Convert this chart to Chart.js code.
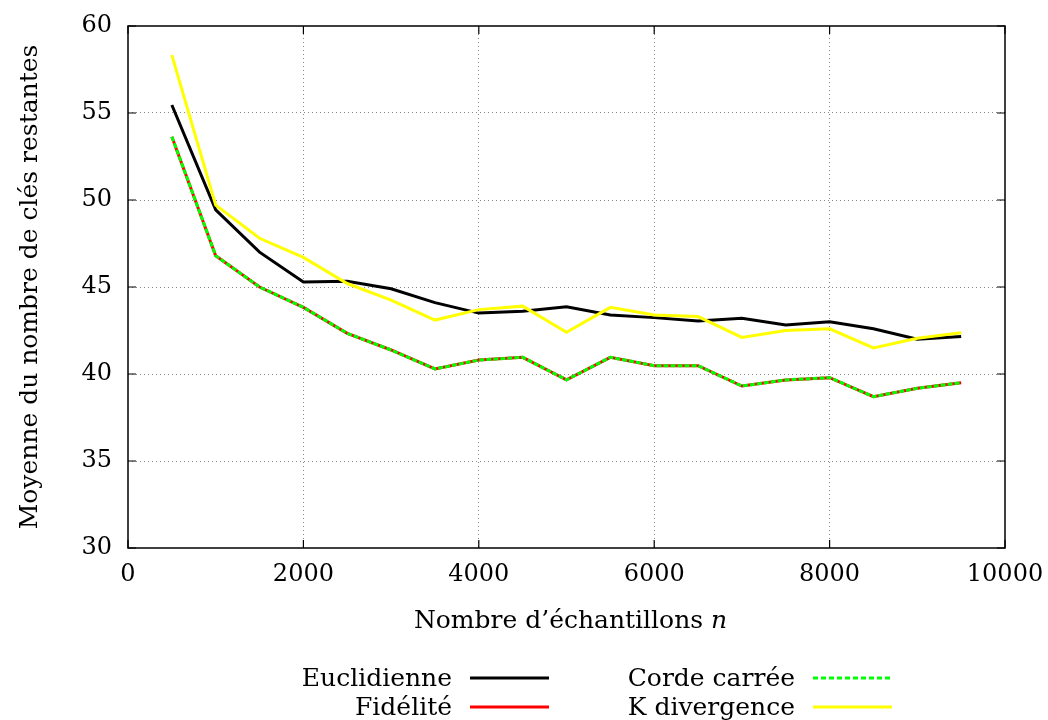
<!DOCTYPE html>
<html lang="fr">
<head>
  <meta charset="UTF-8" />
  <title>Moyenne du nombre de clés restantes</title>
  <script src="https://cdn.jsdelivr.net/npm/chart.js"></script>
  <style>
    body { margin: 0; background: #fff; }
    #chart { display: block; }
  </style>
</head>
<body>
  <canvas id="chart" width="1048" height="720"></canvas>

  <script>
    // ==== DATA ====
    const samples = [500, 1000, 1500, 2000, 2500, 3000, 3500, 4000, 4500, 5000,
                     5500, 6000, 6500, 7000, 7500, 8000, 8500, 9000, 9500];
    const euclidienne = [55.46, 49.43, 47.0, 45.29, 45.33, 44.9, 44.1, 43.5, 43.6, 43.87,
                         43.39, 43.24, 43.05, 43.2, 42.82, 43.0, 42.6, 42.0, 42.15];
    const fidelite = [53.64, 46.8, 45.0, 43.83, 42.34, 41.38, 40.29, 40.8, 40.96, 39.66,
                      40.96, 40.48, 40.48, 39.31, 39.66, 39.79, 38.7, 39.18, 39.5];
    const cordeCarree = [53.64, 46.8, 45.0, 43.83, 42.34, 41.38, 40.29, 40.8, 40.96, 39.66,
                         40.96, 40.48, 40.48, 39.31, 39.66, 39.79, 38.7, 39.18, 39.5];
    const kDivergence = [58.33, 49.7, 47.8, 46.7, 45.2, 44.25, 43.1, 43.7, 43.9, 42.4,
                         43.83, 43.39, 43.3, 42.1, 42.5, 42.6, 41.5, 42.05, 42.37];
    const xTicks = [0, 2000, 4000, 6000, 8000, 10000];
    const yTicks = [30, 35, 40, 45, 50, 55, 60];

    const serif = "'DejaVu Serif', serif";
    Chart.defaults.font.family = serif;
    Chart.defaults.color = '#000';

    const toPoints = (arr) => samples.map((x, i) => ({ x: x, y: arr[i] }));

    // legend rows, drawn by hand like gnuplot's key
    const legendItems = [
      { label: 'Euclidienne', color: '#000000', dash: [], col: 0, row: 0 },
      { label: 'Fidélité', color: '#ff0000', dash: [], col: 0, row: 1 },
      { label: 'Corde carrée', color: '#00ff00', dash: [5, 3], col: 1, row: 0 },
      { label: 'K divergence', color: '#ffff00', dash: [], col: 1, row: 1 }
    ];

    // frame, inner tick marks, x title and key
    const gnuplotLook = {
      id: 'gnuplotLook',
      afterDraw(chart) {
        const { ctx, chartArea: a, scales } = chart;
        ctx.save();

        // frame
        ctx.strokeStyle = '#000';
        ctx.lineWidth = 1.5;
        ctx.setLineDash([]);
        ctx.strokeRect(a.left, a.top, a.right - a.left, a.bottom - a.top);

        // tick marks on all four sides
        const tl = 8;
        ctx.lineWidth = 1.2;
        ctx.beginPath();
        xTicks.forEach(v => {
          const px = scales.x.getPixelForValue(v);
          ctx.moveTo(px, a.bottom); ctx.lineTo(px, a.bottom - tl);
          ctx.moveTo(px, a.top); ctx.lineTo(px, a.top + tl);
        });
        yTicks.forEach(v => {
          const py = scales.y.getPixelForValue(v);
          ctx.moveTo(a.left, py); ctx.lineTo(a.left + tl, py);
          ctx.moveTo(a.right, py); ctx.lineTo(a.right - tl, py);
        });
        ctx.stroke();

        // x title with italic n
        const part1 = 'Nombre d\u2019\u00e9chantillons ';
        const part2 = 'n';
        ctx.fillStyle = '#000';
        ctx.textBaseline = 'alphabetic';
        ctx.font = '25px ' + serif;
        const w1 = ctx.measureText(part1).width;
        ctx.font = 'italic 25px ' + serif;
        const w2 = ctx.measureText(part2).width;
        const cx = (a.left + a.right) / 2 + 4;
        const startX = cx - (w1 + w2) / 2;
        const titleY = 628;
        ctx.font = '25px ' + serif;
        ctx.textAlign = 'left';
        ctx.fillText(part1, startX, titleY);
        ctx.font = 'italic 25px ' + serif;
        ctx.fillText(part2, startX + w1, titleY);

        // key
        const colText = [452, 795];
        const colLine = [[470, 549], [813, 892]];
        const rowY = [678, 707];
        ctx.font = '25px ' + serif;
        ctx.textAlign = 'right';
        legendItems.forEach(it => {
          const y = rowY[it.row];
          ctx.fillStyle = '#000';
          ctx.fillText(it.label, colText[it.col], y + 8);
          ctx.strokeStyle = it.color;
          ctx.lineWidth = 3;
          ctx.setLineDash(it.dash);
          ctx.beginPath();
          ctx.moveTo(colLine[it.col][0], y);
          ctx.lineTo(colLine[it.col][1], y);
          ctx.stroke();
        });

        ctx.restore();
      }
    };

    const gridColor = (edges) => (c) =>
      (c.tick && edges.includes(c.tick.value)) ? 'rgba(0,0,0,0)' : '#888';

    new Chart(document.getElementById('chart'), {
      type: 'line',
      data: {
        datasets: [
          { label: 'Euclidienne', data: toPoints(euclidienne), borderColor: '#000000', order: 4 },
          { label: 'Fidélité', data: toPoints(fidelite), borderColor: '#ff0000', order: 3 },
          { label: 'Corde carrée', data: toPoints(cordeCarree), borderColor: '#00ff00', borderDash: [5, 2], order: 2 },
          { label: 'K divergence', data: toPoints(kDivergence), borderColor: '#ffff00', order: 1 }
        ]
      },
      options: {
        responsive: false,
        devicePixelRatio: 1,
        animation: false,
        elements: {
          line: { borderWidth: 3, tension: 0, fill: false },
          point: { radius: 0, hoverRadius: 0 }
        },
        layout: { padding: { left: 0, top: 26, right: 43, bottom: 112 } },
        plugins: {
          legend: { display: false },
          tooltip: { enabled: false }
        },
        scales: {
          x: {
            type: 'linear',
            min: 0,
            max: 10000,
            afterBuildTicks: (s) => { s.ticks = xTicks.map(v => ({ value: v })); },
            afterFit: (s) => { s.height = 60; s.paddingLeft = 0; s.paddingRight = 0; },
            grid: { color: gridColor([0, 10000]), drawTicks: false, lineWidth: 1 },
            border: { display: false, dash: [1, 3] },
            ticks: { padding: 12, font: { size: 24 }, color: '#000', maxRotation: 0,
                     callback: (v) => String(v) }
          },
          y: {
            min: 30,
            max: 60,
            afterBuildTicks: (s) => { s.ticks = yTicks.map(v => ({ value: v })); },
            afterFit: (s) => { s.width = 128; s.paddingTop = 0; s.paddingBottom = 0; },
            grid: { color: gridColor([30, 60]), drawTicks: false, lineWidth: 1 },
            border: { display: false, dash: [1, 3] },
            ticks: { padding: 16, font: { size: 24 }, color: '#000',
                     callback: (v) => String(v) },
            title: {
              display: true,
              text: 'Moyenne du nombre de clés restantes',
              font: { size: 25 },
              color: '#000',
              padding: { top: 15, bottom: 0 }
            }
          }
        }
      },
      plugins: [gnuplotLook]
    });
  </script>
</body>
</html>
